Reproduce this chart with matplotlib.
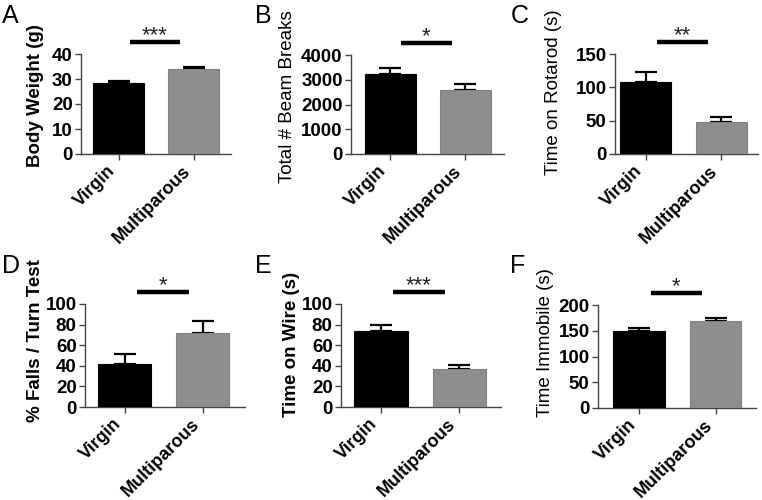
import matplotlib
matplotlib.use("Agg")
import matplotlib.pyplot as plt

plt.rcParams["font.family"] = ["Liberation Sans", "DejaVu Sans"]

W, H = 762, 500

categories = ["Virgin", "Multiparous"]

body_weight = [28.5, 34.0]
body_weight_err = [0.7, 1.0]
beam_breaks = [3230, 2590]
beam_breaks_err = [230, 230]
rotarod = [108, 48.5]
rotarod_err = [15, 6.5]
falls = [41.5, 71.5]
falls_err = [9.5, 12.0]
wire = [73.5, 36.5]
wire_err = [6.5, 4.5]
immobile = [150, 169]
immobile_err = [5, 6]

panels = [
    # letter, ylabel, label weight, values, errors, yticks, stars
    ("A", "Body Weight (g)", "bold", body_weight, body_weight_err, [0, 10, 20, 30, 40], "***"),
    ("B", "Total # Beam Breaks", "normal", beam_breaks, beam_breaks_err, [0, 1000, 2000, 3000, 4000], "*"),
    ("C", "Time on Rotarod (s)", "normal", rotarod, rotarod_err, [0, 50, 100, 150], "**"),
    ("D", "% Falls / Turn Test", "bold", falls, falls_err, [0, 20, 40, 60, 80, 100], "*"),
    ("E", "Time on Wire (s)", "bold", wire, wire_err, [0, 20, 40, 60, 80, 100], "***"),
    ("F", "Time Immobile (s)", "normal", immobile, immobile_err, [0, 50, 100, 150, 200], "*"),
]

# axes boxes in pixels: left, right, top, bottom
boxes = [
    (81, 231, 54, 154),
    (351, 504, 55, 154),
    (615, 758, 54, 154),
    (85, 245, 304, 407),
    (341, 501, 304, 407),
    (598, 756, 305, 408),
]
xlims = [(-0.5, 1.5), (-0.52, 1.52), (-0.41, 1.49),
         (-0.51, 1.54), (-0.51, 1.53), (-0.54, 1.53)]
letter_pos = [(2, 4), (255, 4), (511, 4), (2, 254), (255, 254), (510, 254)]
# centre of each y label, pixels
ylabel_xy = [(35, 96), (287, 97), (553, 92), (36, 341), (291, 344), (546, 343)]

fig = plt.figure(figsize=(W / 100, H / 100), dpi=100, facecolor="white")

for i, (letter, ylab, lw_, vals, errs, yt, stars) in enumerate(panels):
    l, r, t, b = boxes[i]
    ax = fig.add_axes([l / W, 1 - b / H, (r - l) / W, (b - t) / H])
    xs = [0, 1]
    ax.bar(xs, vals, width=0.68, color=["black", "#8e8e8e"],
           edgecolor=["black", "#808080"], linewidth=0.8, zorder=3)
    ax.errorbar(xs, vals, yerr=[[0, 0], errs], fmt="none", ecolor="black",
                elinewidth=1.6, capsize=8, capthick=1.6, zorder=2)
    ax.set_xlim(*xlims[i])
    ax.set_ylim(yt[0], yt[-1])
    ax.set_yticks(yt)
    ax.set_xticks(xs)
    ax.set_xticklabels(categories, rotation=45, ha="right", va="top",
                       fontsize=13, fontweight="bold")
    for lab in ax.get_yticklabels():
        lab.set_fontsize(13.5)
        lab.set_fontweight("bold")
    for s in ("top", "right"):
        ax.spines[s].set_visible(False)
    for s in ("left", "bottom"):
        ax.spines[s].set_color("#444444")
        ax.spines[s].set_linewidth(1.0)
    ax.tick_params(axis="both", length=4, width=1.0, color="#444444", pad=2)

    fig.text(ylabel_xy[i][0] / W, 1 - ylabel_xy[i][1] / H, ylab, rotation=90,
             ha="center", va="center", fontsize=13.5, fontweight=lw_)

    # significance bar + stars
    ax.plot([0.15, 0.82], [1.12, 1.12], transform=ax.get_xaxis_transform(),
            color="black", lw=3.2, clip_on=False, solid_capstyle="butt")
    ax.text(0.485, 1.125, stars, transform=ax.get_xaxis_transform(),
            ha="center", va="baseline", fontsize=16, color="#222222")

    fig.text(letter_pos[i][0] / W, 1 - letter_pos[i][1] / H, letter,
             ha="left", va="top", fontsize=18)

fig.savefig("out.png", dpi=100, facecolor="white")
